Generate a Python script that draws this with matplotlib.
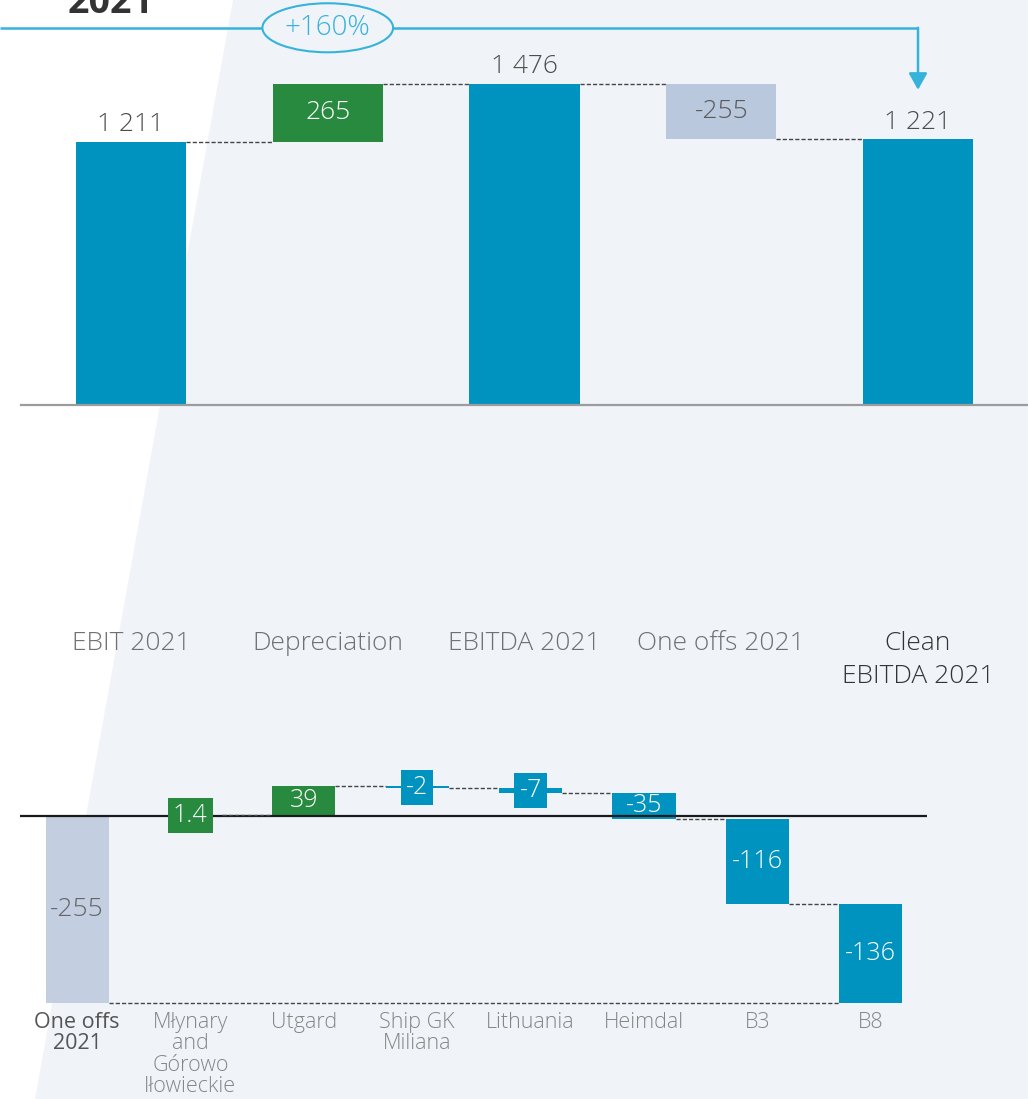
import matplotlib
matplotlib.use("Agg")
import matplotlib.pyplot as plt
from matplotlib.patches import Polygon
import numpy as np

plt.rcParams['font.family'] = ['Open Sans', 'DejaVu Sans']
plt.rcParams['font.weight'] = 'light'

# top waterfall data
top_labels = ["EBIT 2021", "Depreciation", "EBITDA 2021", "One offs 2021", "Clean\nEBITDA 2021"]
top_values = [1211, 265, 1476, -255, 1221]
top_is_total = [True, False, True, False, True]
growth_label = "+160%"

# bottom breakdown of one offs
bot_labels = ["One offs\n2021", "Młynary\nand\nGórowo\nIłowieckie", "Utgard", "Ship GK\nMiliana",
              "Lithuania", "Heimdal", "B3", "B8"]
bot_values = [-255, 1.4, 39, -2, -7, -35, -116, -136]

BG = "#F0F4F9"
TEAL = "#0093BF"
GREEN = "#278A3F"
GREY_BOX = "#B9C8DD"
GREY_BAR = "#C3CEE0"
ARROW = "#35B3DA"

W, H = 1028, 1099
fig = plt.figure(figsize=(W / 100, H / 100), dpi=100)
fig.patch.set_facecolor(BG)

# white diagonal panel on the left
fig.add_artist(Polygon([(0, 1), (233 / W, 1), (35 / W, 0), (0, 0)], closed=True,
                       transform=fig.transFigure, facecolor="white", edgecolor="none", zorder=-1))

fig.text(68 / W, 1 - 13 / H, "2021", fontsize=27, fontweight="bold", color="#333333", va="baseline")


def fmt(v):
    if float(v).is_integer():
        return f"{int(v):,}".replace(",", " ")
    return f"{v}"


# ---------------- top chart ----------------
ax = fig.add_axes([21 / W, 1 - 405 / H, (W - 21) / W, 405 / H])
ax.set_facecolor("none")
ax.set_xlim(-0.559, 4.559)
ax.set_ylim(0, 1862)
bw = 0.56
x = np.arange(len(top_values))
ends = []
running = 0
for i, (v, tot) in enumerate(zip(top_values, top_is_total)):
    if tot:
        bottom, height, color = 0, v, TEAL
        running = v
    else:
        bottom, height = running, v
        color = GREEN if v > 0 else GREY_BOX
        running = running + v
    ax.bar(i, height, bottom=bottom, width=bw, color=color, zorder=2)
    ends.append(running)
    if tot:
        ax.annotate(fmt(v), (i, v), xytext=(0, 3.5), textcoords="offset points",
                    ha="center", va="bottom", fontsize=19, color="#4d4d4d")
    else:
        ax.text(i, bottom + height / 2, fmt(v), ha="center", va="center", fontsize=19,
                color="white" if v > 0 else "#5a5a5a")

for i in range(len(top_values) - 1):
    ax.plot([i + bw / 2, i + 1 - bw / 2], [ends[i], ends[i]], color="#444444", lw=1,
            ls=(0, (3, 1.5)), zorder=1)

for s in ["top", "left", "right"]:
    ax.spines[s].set_visible(False)
ax.spines["bottom"].set_color("#9c9c9c")
ax.spines["bottom"].set_linewidth(1.6)
ax.set_yticks([])
ax.set_xticks(x)
ax.set_xticklabels(top_labels, fontsize=19, color="#707070", linespacing=1.4)
ax.tick_params(axis="x", length=0, pad=163)
ax.get_xticklabels()[-1].set_color("#333333")

# growth arrow
arrow_y = max(top_values) * 1.175
tip_y = top_values[-1] + 228
x0 = ax.transData.inverted().transform(fig.transFigure.transform((0, 0)))[0]
last = len(top_values) - 1
ax.plot([x0, last], [arrow_y, arrow_y], color=ARROW, lw=1.8, clip_on=False, zorder=3,
        solid_capstyle="butt")
ax.annotate("", xy=(last, tip_y), xytext=(last, arrow_y),
            arrowprops=dict(arrowstyle="-|>,head_length=0.5,head_width=0.28", color=ARROW,
                            lw=1.8, shrinkA=0, shrinkB=0, mutation_scale=20),
            annotation_clip=False, zorder=3)
ax.text(1, arrow_y, growth_label, ha="center", va="center", fontsize=20, color=ARROW, zorder=4,
        bbox=dict(boxstyle="ellipse,pad=0.12", fc=BG, ec=ARROW, lw=1.5), clip_on=False)

# ---------------- bottom chart ----------------
bx = fig.add_axes([20 / W, 1 - 1010 / H, 907 / W, 250 / H])
bx.set_facecolor("none")
bx.set_xlim(-0.503, 7.496)
bx.set_ylim(-264.7, 76.4)
bbw = 0.556
px_per_unit = 250 / (76.4 + 264.7)

bx.axhline(0, color="#1a1a1a", lw=1.6, zorder=3)

# first bar: total one offs
bx.bar(0, bot_values[0], width=bbw, color=GREY_BAR, zorder=2)
bx.text(0, bot_values[0] / 2, fmt(bot_values[0]), ha="center", va="center", fontsize=19,
        color="#666666", zorder=4)

running = 0
levels = []
for i, v in enumerate(bot_values[1:], start=1):
    color = GREEN if v > 0 else TEAL
    bx.bar(i, v, bottom=running, width=bbw, color=color, zorder=2)
    mid = running + v / 2
    if abs(v) * px_per_unit < 24:
        bx.text(i, mid, fmt(v), ha="center", va="center", fontsize=18, color="white", zorder=5,
                bbox=dict(boxstyle="square,pad=0.2", fc=color, ec="none"))
    else:
        bx.text(i, mid, fmt(v), ha="center", va="center", fontsize=18, color="white", zorder=5)
    running += v
    levels.append(running)

n = len(bot_values)
for k in range(len(levels) - 1):
    i = k + 1
    bx.plot([i + bbw / 2, i + 1 - bbw / 2], [levels[k], levels[k]], color="#444444", lw=1,
            ls=(0, (3, 1.5)), zorder=4 if k == 0 else 1)
# closing line back to the total bar
bx.plot([bbw / 2, n - 1 - bbw / 2], [levels[-1], levels[-1]], color="#444444", lw=1,
        ls=(0, (3, 1.5)), zorder=1)

for s in bx.spines.values():
    s.set_visible(False)
bx.set_yticks([])
bx.set_xticks(np.arange(n))
bx.set_xticklabels(bot_labels, fontsize=15.5, color="#858585", linespacing=1.02)
bx.tick_params(axis="x", length=0, pad=1.5)
bx.get_xticklabels()[0].set_color("#555555")
bx.get_xticklabels()[0].set_fontweight("normal")

fig.savefig("out.png", dpi=100, facecolor=BG)
